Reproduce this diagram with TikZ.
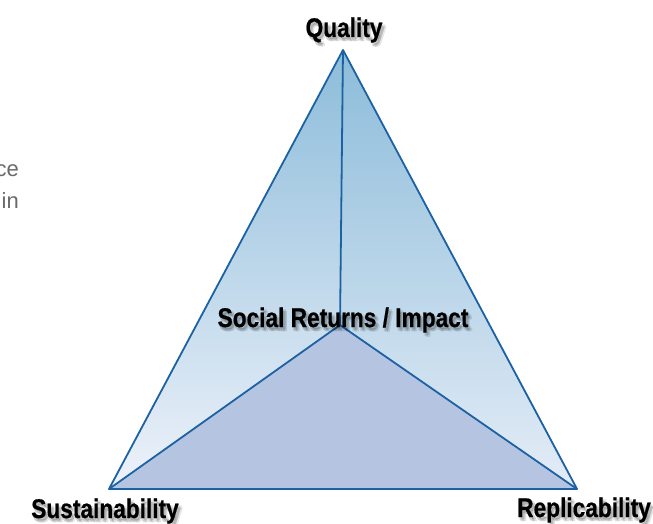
\documentclass[tikz,border=0pt]{standalone}
\usepackage{fontspec}
\setmainfont{Liberation Sans}
\newfontfamily\lab[FakeStretch=0.84,FakeBold=0.6]{Liberation Sans}
\definecolor{edge}{HTML}{1C62A3}
\definecolor{topblue}{HTML}{8CBCDA}
\definecolor{botwhite}{HTML}{EEF2FA}
\definecolor{basefill}{HTML}{B5C5E1}
\definecolor{sidegray}{HTML}{6A6A6A}
\usetikzlibrary{calc}
\tikzset{
  edgeline/.style={draw=edge, line width=1.8pt, line join=round},
  labtext/.style={font=\lab\bfseries\fontsize{27}{29}\selectfont, text=black, inner sep=0pt, anchor=base},
  shadowtext/.style={font=\lab\bfseries\fontsize{27}{29}\selectfont, text=black, text opacity=0.09, inner sep=0pt, anchor=base},
  sidetext/.style={font=\fontsize{22}{24}\selectfont, text=sidegray, inner sep=0pt, anchor=base east}
}
\newcommand{\shadowlabel}[3]{%
  \foreach \dx/\dy in {1/3, 3/2, 2/4, 4/4}{
    \node[shadowtext] at ($(#1)+(\dx,\dy)$) {#3};
  }
  \node[labtext] (#2) at (#1) {#3};
}
\begin{document}
\begin{tikzpicture}[x=1pt,y=-1pt]
\useasboundingbox (0,0) rectangle (653,524);
\fill[white] (0,0) rectangle (653,524);
\coordinate (A) at (343,50);
\coordinate (B) at (109,489);
\coordinate (C) at (577,489);
\coordinate (O) at (340,325);
% faces
\fill[top color=topblue, bottom color=botwhite] (A) -- (O) -- (B) -- cycle;
\fill[top color=topblue, bottom color=botwhite!90!topblue] (A) -- (C) -- (O) -- cycle;
\fill[basefill] (B) -- (O) -- (C) -- cycle;
% edges
\draw[edgeline] (A) -- (B) -- (C) -- cycle;
\draw[edgeline] (A) -- (O);
\draw[edgeline] (O) -- (B);
\draw[edgeline] (O) -- (C);
% labels
\coordinate (pq) at (344,37);
\coordinate (ps) at (343,327);
\coordinate (pu) at (105,518);
\coordinate (pr) at (584,517);
\shadowlabel{pq}{quality}{Quality}
\shadowlabel{ps}{social}{Social Returns / Impact}
\shadowlabel{pu}{sustain}{Sustainability}
\shadowlabel{pr}{replic}{Replicability}
% side text fragments
\node[sidetext] (ce) at (19,176) {ce};
\node[sidetext] (in) at (19,208) {in};
\end{tikzpicture}
\end{document}
